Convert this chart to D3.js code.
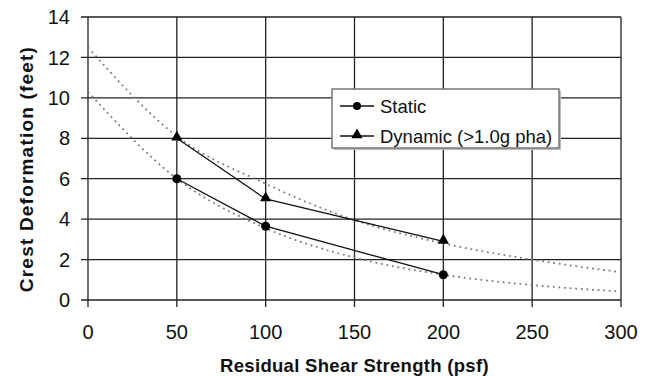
<!DOCTYPE html>
<html lang="en">
<head>
<meta charset="UTF-8">
<title>Crest Deformation</title>
<script src="https://d3js.org/d3.v7.min.js"></script>
<style>
  body { margin: 0; background: #fff; }
  text { font-family: "Liberation Sans", Arial, sans-serif; fill: #111; }
</style>
</head>
<body>
<div id="chart"></div>
<script>
// data
var strength = [50, 100, 200];
var staticDef = [6.0, 3.65, 1.25];
var dynamicDef = [8.0, 5.0, 2.9];

// dotted trend curves (read at these x values)
var trendX = [0, 50, 100, 150, 200, 250, 300];
var staticTrend = [10.3, 6.0, 3.55, 2.1, 1.25, 0.74, 0.42];
var dynamicTrend = [12.5, 8.1, 5.75, 3.95, 2.8, 2.0, 1.37];

var xTicks = [0, 50, 100, 150, 200, 250, 300];
var yTicks = [0, 2, 4, 6, 8, 10, 12, 14];
var seriesNames = ["Static", "Dynamic (>1.0g pha)"];

var W = 657, H = 376;
var margin = {top: 17, right: 36, bottom: 76, left: 88},
    width = W - margin.left - margin.right,
    height = H - margin.top - margin.bottom;

var svg = d3.select("#chart").append("svg")
    .attr("width", W).attr("height", H);
var g = svg.append("g")
    .attr("transform", "translate(" + margin.left + "," + margin.top + ")");

var x = d3.scaleLinear().domain([0, 300]).range([0, width]);
var y = d3.scaleLinear().domain([0, 14]).range([height, 0]);

// grid
g.append("g").selectAll("line").data(yTicks).enter().append("line")
    .attr("x1", -7).attr("x2", width)
    .attr("y1", function(d) { return y(d); }).attr("y2", function(d) { return y(d); })
    .attr("stroke", "#222").attr("stroke-width", 1.3);
g.append("g").selectAll("line").data(xTicks).enter().append("line")
    .attr("x1", function(d) { return x(d); }).attr("x2", function(d) { return x(d); })
    .attr("y1", 0).attr("y2", height + 7)
    .attr("stroke", "#222").attr("stroke-width", 1.3);

// tick labels
g.append("g").selectAll("text").data(yTicks).enter().append("text")
    .attr("x", -18).attr("y", function(d) { return y(d); })
    .attr("dy", "0.36em").attr("text-anchor", "end")
    .style("font-size", "20px").text(function(d) { return d; });
g.append("g").selectAll("text").data(xTicks).enter().append("text")
    .attr("x", function(d) { return x(d); }).attr("y", height + 39)
    .attr("text-anchor", "middle")
    .style("font-size", "20px").text(function(d) { return d; });

// axis titles
svg.append("text")
    .attr("x", margin.left + width / 2).attr("y", 372)
    .attr("text-anchor", "middle")
    .style("font-size", "18.5px").style("font-weight", "bold")
    .style("letter-spacing", "0.3px")
    .text("Residual Shear Strength (psf)");
svg.append("text")
    .attr("transform", "translate(33,169) rotate(-90)")
    .attr("text-anchor", "middle")
    .style("font-size", "19px").style("font-weight", "bold")
    .style("letter-spacing", "1.2px")
    .text("Crest Deformation (feet)");

// trend lines
var trend = d3.line()
    .x(function(d, i) { return x(trendX[i]); })
    .y(function(d) { return y(d); })
    .curve(d3.curveMonotoneX);
[staticTrend, dynamicTrend].forEach(function(t) {
  g.append("path").datum(t)
    .attr("d", trend)
    .attr("fill", "none")
    .attr("stroke", "#777")
    .attr("stroke-width", 1.7)
    .attr("stroke-dasharray", "1.8,3.8");
});

// data lines
var line = d3.line()
    .x(function(d, i) { return x(strength[i]); })
    .y(function(d) { return y(d); });
var tri = d3.symbol().type(d3.symbolTriangle).size(55);

g.append("path").datum(staticDef).attr("d", line)
    .attr("fill", "none").attr("stroke", "#111").attr("stroke-width", 1.3);
g.append("path").datum(dynamicDef).attr("d", line)
    .attr("fill", "none").attr("stroke", "#111").attr("stroke-width", 1.3);

g.append("g").selectAll("circle").data(staticDef).enter().append("circle")
    .attr("cx", function(d, i) { return x(strength[i]); })
    .attr("cy", function(d) { return y(d); })
    .attr("r", 4.5).attr("fill", "#000");
g.append("g").selectAll("path").data(dynamicDef).enter().append("path")
    .attr("d", tri)
    .attr("transform", function(d, i) { return "translate(" + x(strength[i]) + "," + (y(d) - 1) + ")"; })
    .attr("fill", "#000");

// legend
var lg = svg.append("g").attr("transform", "translate(332,89)");
lg.append("rect").attr("x", 2).attr("y", 2).attr("width", 227).attr("height", 59)
    .attr("fill", "#bbb");
lg.append("rect").attr("width", 227).attr("height", 59)
    .attr("fill", "#fff").attr("stroke", "#777").attr("stroke-width", 1.5);
seriesNames.forEach(function(name, i) {
  var yy = 17 + i * 30;
  lg.append("line").attr("x1", 8).attr("x2", 42).attr("y1", yy).attr("y2", yy)
    .attr("stroke", "#111").attr("stroke-width", 1.3);
  if (i === 0) {
    lg.append("circle").attr("cx", 25).attr("cy", yy).attr("r", 4).attr("fill", "#000");
  } else {
    lg.append("path").attr("d", tri).attr("transform", "translate(25," + (yy - 1) + ")").attr("fill", "#000");
  }
  lg.append("text").attr("x", 48).attr("y", yy).attr("dy", "0.36em")
    .style("font-size", "18.5px").text(name);
});
</script>
</body>
</html>
